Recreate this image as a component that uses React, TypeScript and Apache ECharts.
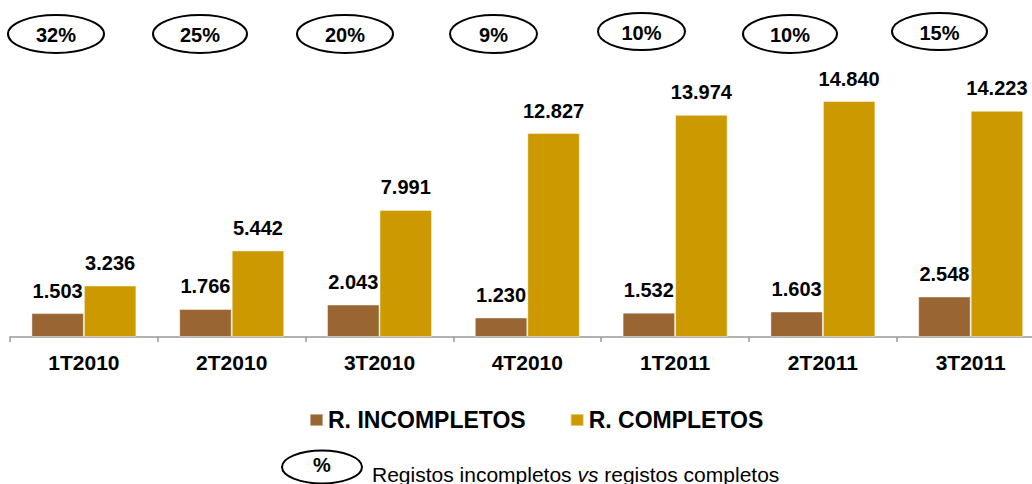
import React, { useEffect, useRef } from "react";
import * as echarts from "echarts";

const categories = ["1T2010", "2T2010", "3T2010", "4T2010", "1T2011", "2T2011", "3T2011"];
const incompletos = [1503, 1766, 2043, 1230, 1532, 1603, 2548];
const completos = [3236, 5442, 7991, 12827, 13974, 14840, 14223];
const ratioLabels = ["32%", "25%", "20%", "9%", "10%", "10%", "15%"];
const seriesNames = ["R. INCOMPLETOS", "R. COMPLETOS"];

// visual placement of the ovals (layout only)
const ovalLayout = [
  { cx: 56, cy: 34, rx: 48, ry: 19 },
  { cx: 200, cy: 34, rx: 47, ry: 19 },
  { cx: 345, cy: 34, rx: 48, ry: 19 },
  { cx: 493.5, cy: 34, rx: 43.5, ry: 19 },
  { cx: 641.5, cy: 31.5, rx: 43.5, ry: 18.5 },
  { cx: 790, cy: 34, rx: 47, ry: 19 },
  { cx: 939.5, cy: 31.5, rx: 47.5, ry: 18.5 },
];

const FONT = "'Liberation Sans', Arial, Helvetica, sans-serif";
const fmt = (v: number) => String(v).replace(/\B(?=(\d{3})+(?!\d))/g, ".");

export default function App() {
  const ref = useRef<HTMLDivElement>(null);
  useEffect(() => {
    if (!ref.current) return;
    const chart = echarts.init(ref.current, undefined, { renderer: "svg" });

    const ovals: any[] = [];
    ratioLabels.forEach((t, i) => {
      const o = ovalLayout[i];
      ovals.push({
        type: "ellipse",
        shape: { cx: o.cx, cy: o.cy, rx: o.rx, ry: o.ry },
        style: { fill: "#fff", stroke: "#000", lineWidth: 2 },
        z: 10,
      });
      ovals.push({
        type: "text",
        x: o.cx,
        y: o.cy + 1,
        style: {
          text: t,
          fill: "#000",
          font: `bold 20px ${FONT}`,
          align: "center",
          verticalAlign: "middle",
        },
        z: 11,
      });
    });

    const labelStyle = {
      show: true,
      position: "top" as const,
      distance: 12.5,
      color: "#000",
      fontFamily: FONT,
      fontWeight: "bold" as const,
      fontSize: 20,
      lineHeight: 20,
      formatter: (p: any) => fmt(p.value),
    };

    chart.setOption({
      animation: false,
      textStyle: { fontFamily: FONT },
      grid: { left: 10, top: 98.5, width: 1034.6, height: 238.5, containLabel: false },
      legend: {
        data: seriesNames,
        left: 309,
        top: 408,
        icon: "rect",
        itemWidth: 13,
        itemHeight: 12,
        itemGap: 44,
        padding: 0,
        textStyle: {
          fontFamily: FONT,
          fontWeight: "bold",
          fontSize: 23,
          lineHeight: 24,
          color: "#000",
        },
        selectedMode: false,
      },
      xAxis: {
        type: "category",
        data: categories,
        boundaryGap: true,
        axisLine: { lineStyle: { color: "#999", width: 1.5 } },
        axisTick: { show: true, length: 5, lineStyle: { color: "#999", width: 1.5 } },
        axisLabel: {
          margin: 15,
          color: "#000",
          fontFamily: FONT,
          fontWeight: "bold",
          fontSize: 21,
          interval: 0,
        },
      },
      yAxis: {
        type: "value",
        min: 0,
        max: 15000,
        show: false,
        splitLine: { show: false },
      },
      series: [
        {
          name: seriesNames[0],
          type: "bar",
          data: incompletos,
          barWidth: 52.5,
          barGap: "0%",
          itemStyle: { color: "#996633", borderColor: "rgba(255,255,255,0.45)", borderWidth: 1 },
          label: labelStyle,
        },
        {
          name: seriesNames[1],
          type: "bar",
          data: completos,
          barWidth: 52.5,
          barGap: "0%",
          itemStyle: { color: "#CC9900", borderColor: "rgba(255,255,255,0.45)", borderWidth: 1 },
          label: labelStyle,
        },
      ],
      graphic: [
        ...ovals,
        {
          type: "ellipse",
          shape: { cx: 322, cy: 467, rx: 40, ry: 16.5 },
          style: { fill: "#fff", stroke: "#000", lineWidth: 2 },
          z: 10,
        },
        {
          type: "text",
          x: 322,
          y: 465,
          style: {
            text: "%",
            fill: "#000",
            font: `bold 20px ${FONT}`,
            align: "center",
            verticalAlign: "middle",
          },
          z: 11,
        },
        {
          type: "text",
          x: 372,
          y: 463,
          style: {
            text: "{a|Registos incompletos }{b|vs}{a| registos completos}",
            align: "left",
            verticalAlign: "top",
            rich: {
              a: { fontFamily: FONT, fontSize: 21, lineHeight: 22, fill: "#000", color: "#000" },
              b: { fontFamily: FONT, fontSize: 21, lineHeight: 22, fontStyle: "italic", fill: "#000", color: "#000" },
            },
          },
          z: 11,
        },
      ],
    });
    return () => chart.dispose();
  }, []);
  return (
    <div
      style={{
        position: "absolute",
        left: 0,
        top: 0,
        width: 1032,
        height: 484,
        overflow: "hidden",
        background: "#fff",
      }}
    >
      <div ref={ref} style={{ width: 1060, height: 484 }} />
    </div>
  );
}
